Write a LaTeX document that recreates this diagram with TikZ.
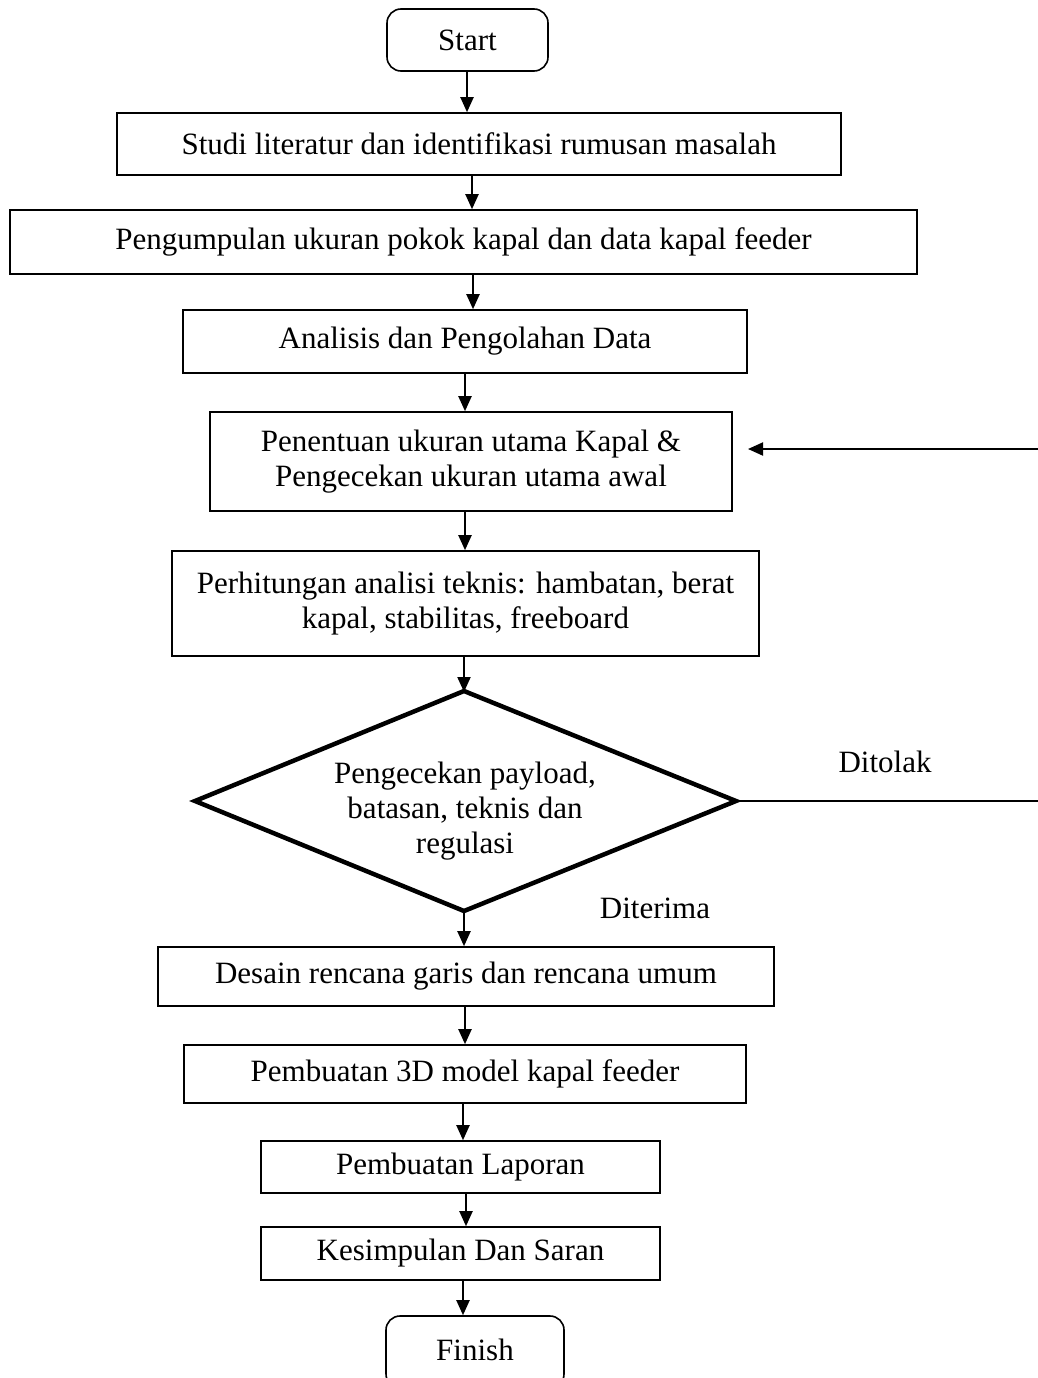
\documentclass[tikz,border=0pt]{standalone}
\usepackage{fontspec}
\setmainfont{Liberation Serif}
\usetikzlibrary{arrows.meta,calc}
\begin{document}
\begin{tikzpicture}[x=1pt,y=-1pt,
  every node/.style={font=\fontsize{31}{35}\selectfont},
  box/.style={draw,line width=1.6pt,inner sep=0pt,align=center},
  term/.style={box,rounded corners=14pt},
  arr/.style={line width=2pt,-{Triangle[length=15pt,width=13pt]}},
  lbl/.style={inner sep=0pt}]
\useasboundingbox (0,0) rectangle (1037,1378);
\node[term,minimum width=161pt,minimum height=62pt] (start) at (467.5,40) {Start};
\node[box,minimum width=724pt,minimum height=62pt] (b2) at (479,144) {Studi literatur dan identifikasi rumusan masalah};
\node[box,minimum width=907pt,minimum height=64pt] (b3) at (463.5,242) {Pengumpulan ukuran pokok kapal dan data kapal feeder};
\node[box,minimum width=564pt,minimum height=63pt] (b4) at (465,341.5) {Analisis dan Pengolahan Data};
\node[box,minimum width=522pt,minimum height=99pt] (b5) at (471,461.5) {Penentuan ukuran utama Kapal \&\\Pengecekan ukuran utama awal};
\node[box,minimum width=587pt,minimum height=105pt] (b6) at (465.5,603.5) {Perhitungan analisi teknis: hambatan, berat\\kapal, stabilitas, freeboard};
% decision diamond
\coordinate (dt) at (464,691);
\coordinate (dr) at (736,801);
\coordinate (db) at (464,911);
\coordinate (dl) at (195,801);
\draw[line width=4.5pt,line join=miter] (dt) -- (dr) -- (db) -- (dl) -- cycle;
\node[lbl,align=center] (dtext) at (465,811) {Pengecekan payload,\\batasan, teknis dan\\regulasi};
\node[box,minimum width=616pt,minimum height=59pt] (b7) at (466,976.5) {Desain rencana garis dan rencana umum};
\node[box,minimum width=562pt,minimum height=58pt] (b8) at (465,1074) {Pembuatan 3D model kapal feeder};
\node[box,minimum width=399pt,minimum height=52pt] (b9) at (460.5,1167) {Pembuatan Laporan};
\node[box,minimum width=399pt,minimum height=53pt] (b10) at (460.5,1253.5) {Kesimpulan Dan Saran};
\node[term,minimum width=178pt,minimum height=72pt] (finish) at (475,1352) {\raisebox{4pt}{Finish}};
% labels
\node[lbl] (ditolak) at (885,762) {Ditolak};
\node[lbl] (diterima) at (655,908) {Diterima};
% arrow columns
\coordinate (x1) at (467,0);
\coordinate (x2) at (472,0);
\coordinate (x3) at (473,0);
\coordinate (x4) at (465,0);
\coordinate (x5) at (464,0);
\coordinate (x6) at (463,0);
\coordinate (x7) at (466,0);
\draw[arr] (start.south -| x1) -- (b2.north -| x1);
\draw[arr] (b2.south -| x2) -- (b3.north -| x2);
\draw[arr] (b3.south -| x3) -- (b4.north -| x3);
\draw[arr] (b4.south -| x4) -- (b5.north -| x4);
\draw[arr] (b5.south -| x4) -- (b6.north -| x4);
\draw[arr] (b6.south -| x5) -- ([yshift=-1pt]dt);
\draw[arr] ([yshift=2pt]db) -- (b7.north -| x5);
\draw[arr] (b7.south -| x4) -- (b8.north -| x4);
\draw[arr] (b8.south -| x6) -- (b9.north -| x6);
\draw[arr] (b9.south -| x7) -- (b10.north -| x7);
\draw[arr] (b10.south -| x6) -- (finish.north -| x6);
% rejection feedback loop
\coordinate (fbr) at (1045,801);
\coordinate (fbu) at (1045,449);
\coordinate (fbtip) at (748,449);
\draw[line width=2pt] (dr) -- (fbr) -- (fbu);
\draw[arr] (fbu) -- (fbtip);
\end{tikzpicture}
\end{document}
